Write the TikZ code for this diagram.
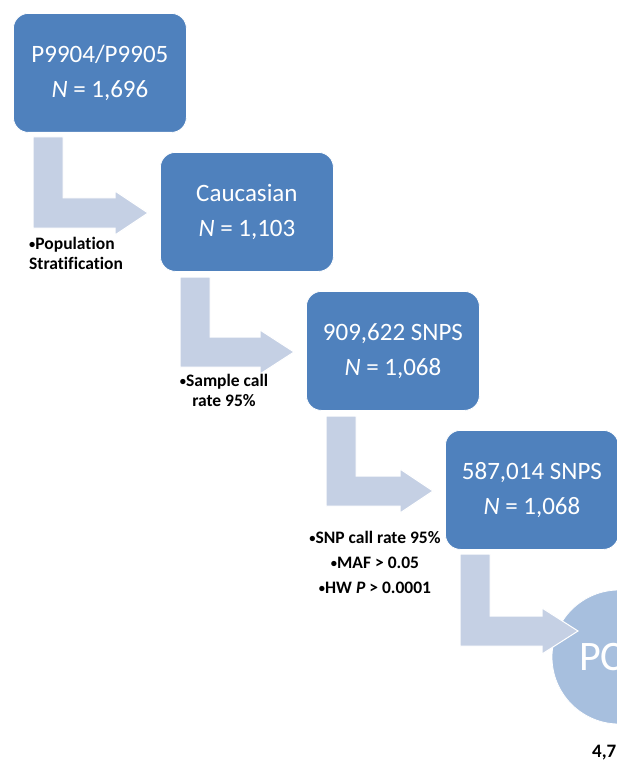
\documentclass[tikz,border=0pt]{standalone}
\usepackage{fontspec}
\setmainfont{Carlito}[Ligatures=NoCommon]
\definecolor{boxblue}{HTML}{4F81BD}
\definecolor{arrcol}{HTML}{C5D0E4}
\definecolor{circcol}{HTML}{A7BFDE}
\newcommand\smbul{{\fontsize{12.5}{12}\selectfont\raisebox{1pt}{•}}}
\tikzset{
  stepbox/.style={rectangle, rounded corners=15pt, fill=boxblue, draw=white, line width=0.8pt,
    minimum width=173pt, minimum height=119pt, anchor=north west, text=white, align=center,
    font=\fontsize{25}{35}\selectfont, inner sep=0pt},
  bendarrow/.style={fill=arrcol, draw=white, line width=1pt, line join=miter},
  note/.style={font=\bfseries\fontsize{17.5}{20}\selectfont, text=black, inner sep=0pt},
}
\newcommand\BendArrow[9]{%
  \path[bendarrow] (#1,#3) -- (#2,#3) -- (#2,#4) -- (#8,#4) -- (#8,#6)
    -- (#9,{(#4+#5)/2}) -- (#8,#7) -- (#8,#5) -- (#1,#5) -- cycle;}
\begin{document}
\begin{tikzpicture}[x=1pt,y=-1pt]
\useasboundingbox (0,0) rectangle (616,767);
\fill[white] (0,0) rectangle (616,767);

% boxes
\node[stepbox] (b1) at (13,13) {P9904/P9905\\\textit{N} = 1,696};
\node[stepbox] (b2) at (160,152) {Caucasian\\ \textit{N} = 1,103};
\node[stepbox] (b3) at (306,291) {909,622 SNPS\\\textit{N} = 1,068};
\node[stepbox] (b4) at (445,430) {587,014 SNPS\\\textit{N} = 1,068};

% final circle
\node[circle, fill=circcol, draw=white, line width=0.8pt, minimum size=134pt, inner sep=0pt] (pca) at (619,657) {};
\node[anchor=west, text=white, font=\fontsize{42}{42}\selectfont, inner sep=0pt] (pcatext) at (579,657) {PC};

% bent arrows
\BendArrow{33}{63}{137}{198}{228}{191}{235}{115}{148}
\BendArrow{180}{210}{277}{337}{367}{330}{374}{260}{294}
\BendArrow{326}{356}{416}{476}{506}{469}{513}{400}{433}
\BendArrow{460}{490}{554}{616}{646}{608}{654}{542}{578}

% notes
\node[note, anchor=west, align=left] (n1) at (29,253) {\smbul Population\\Stratification};
\node[note, align=center] (n2) at (224,390) {\smbul Sample call\\rate 95\%};
\node[note, align=center] (n3) at (375,562) {\smbul SNP call rate 95\%\\[5pt]\smbul MAF > 0.05\\[5pt]\smbul HW \textit{P} > 0.0001};
\node[anchor=west, font=\bfseries\fontsize{19}{19}\selectfont, inner sep=0pt] (n4) at (592,753) {4,7};
\end{tikzpicture}
\end{document}
